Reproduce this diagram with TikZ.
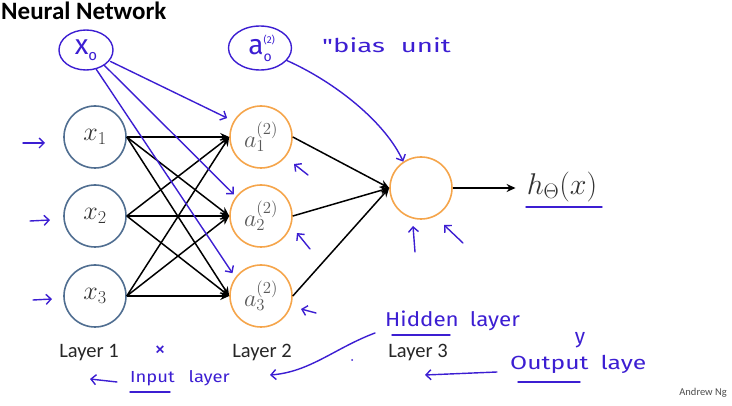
\RequirePackage{fix-cm}
\documentclass[tikz,border=0pt]{standalone}
\usepackage{fontspec}
\setsansfont{Carlito}
\newfontfamily\hand{Fira Sans}
\usetikzlibrary{arrows.meta,shapes.geometric}
\definecolor{inblue}{HTML}{506E91}
\definecolor{hidor}{HTML}{F5A54B}
\definecolor{pen}{HTML}{3C1ED2}
\tikzset{
  inneur/.style={circle,draw=inblue,line width=1.6pt,minimum size=62pt,inner sep=0pt,text=black!80,font=\fontsize{26}{26}\selectfont},
  hidneur/.style={circle,draw=hidor,line width=1.6pt,minimum size=62pt,inner sep=0pt,text=black!65,font=\fontsize{24}{24}\selectfont},
  wire/.style={line width=1.5pt,-{Stealth[length=9pt,width=8pt]}},
  penline/.style={draw=pen,line width=1.4pt,line cap=round,line join=round},
  penarrow/.style={penline,-{Straight Barb[length=5pt,width=10pt]}},
  pentext/.style={text=pen,inner sep=0pt},
  layerlbl/.style={font=\sffamily\fontsize{20.5}{20.5}\selectfont,inner sep=0pt,text=black!85},
  penellipse/.style={ellipse,draw=pen,line width=1.4pt,inner sep=0pt,text=pen},
}
\begin{document}
\begin{tikzpicture}[x=1pt,y=-1pt]
\useasboundingbox (0,0) rectangle (732,406);
% title
\node[font=\sffamily\bfseries\fontsize{25}{25}\selectfont,anchor=base west,inner sep=0pt] (title) at (1,20) {Neural Network};
% neurons
\node[inneur] (x1) at (95,137) {$x_1$};
\node[inneur] (x2) at (95,216) {$x_2$};
\node[inneur] (x3) at (95,296) {$x_3$};
\node[hidneur] (a1) at (261,137) {$a_1^{(2)}$};
\node[hidneur] (a2) at (261,216) {$a_2^{(2)}$};
\node[hidneur] (a3) at (261,296) {$a_3^{(2)}$};
\node[hidneur] (out) at (421,188) {};
\node[inner sep=0pt,font=\fontsize{30}{30}\selectfont,text=black!80] (h) at (562,187) {$h_\Theta(x)$};
% wires
\foreach \i in {1,2,3}{
  \foreach \j in {1,2,3}{
    \draw[wire] (x\i.east) -- (a\j.west);
  }
  \draw[wire] (a\i.east) -- (out.west);
}
\draw[wire,shorten >=11pt] (out.east) -- (out.east -| h.west);
% layer labels
\node[layerlbl] (l1) at (89,353) {Layer 1};
\node[layerlbl] (l2) at (262,353) {Layer 2};
\node[layerlbl] (l3) at (418,353) {Layer 3};
\node[font=\sffamily\fontsize{10.5}{10.5}\selectfont,text=black!70,anchor=east,inner sep=0pt] (sig) at (727,393) {Andrew Ng};
% handwritten annotations
\node[penellipse,minimum width=54pt,minimum height=40pt] (x0) at (86,50)
  {\hand\fontsize{28}{28}\selectfont\raisebox{1pt}{x}\raisebox{-5pt}{\fontsize{15}{15}\selectfont o}};
\node[penellipse,minimum width=63pt,minimum height=44pt] (a0) at (260,48)
  {\hand\fontsize{28}{28}\selectfont\raisebox{1pt}{a}\rlap{\raisebox{12pt}{\fontsize{10}{10}\selectfont (2)}}\raisebox{-6pt}{\fontsize{14}{14}\selectfont o}\hspace{6pt}};
\node[pentext,anchor=base west] (bias) at (322,53) {\hand\fontsize{19}{19}\selectfont\scalebox{1.45}[1]{"bias}\hspace{16pt}\scalebox{1.45}[1]{unit}};
\draw[penarrow,shorten <=1pt,shorten >=7pt] (x0.-25) -- (a1.150);
\draw[penarrow,shorten >=3pt] (x0.-40) -- (a2.142);
\draw[penarrow,shorten >=5pt] (x0.-62) -- (a3.144);
\draw[penarrow] (a0.-25) .. controls (335,82) and (385,122) .. (out.124);
% little arrows toward nodes
\draw[penarrow] (23,143) -- (45,143);
\draw[penarrow] (30,221) -- (50,220);
\draw[penarrow] (33,300) -- (52,299);
\draw[penarrow] (308,175) -- (294,164);
\draw[penarrow] (310,249) -- (297,233);
\draw[penarrow] (316,313) -- (301,309);
\draw[penarrow] (415,252) -- (413,226);
\draw[penarrow] (463,243) -- (444,225);
% h underline
\draw[penline] (526,207) -- (602,207);
% layer annotations
\node[pentext,anchor=base west] (hidden) at (385,327) {\hand\fontsize{20}{20}\selectfont\scalebox{1.12}[1]{Hidden}\hspace{11pt}\scalebox{1.12}[1]{layer}};
\draw[penline] (392,335) -- (450,335);
\coordinate (hidtail) at (375,333);
\coordinate (hidtip) at (270,375);
\draw[penarrow] (hidtail) .. controls (335,348) and (310,372) .. (hidtip);
\node[pentext,anchor=base west] (output) at (510,370) {\hand\fontsize{19}{19}\selectfont\scalebox{1.3}[1]{Output}\hspace{12pt}\scalebox{1.3}[1]{laye}};
\draw[penline] (518,382) -- (580,382);
\node[pentext] (ylab) at (580,340) {\hand\fontsize{21}{21}\selectfont y};
\coordinate (outtail) at (497,372);
\coordinate (outtip) at (425,375);
\draw[penarrow] (outtail) -- (outtip);
\node[pentext,anchor=base west] (input) at (130,383) {\hand\fontsize{16}{16}\selectfont\scalebox{1.15}[1]{Input}\hspace{14pt}\scalebox{1.15}[1]{layer}};
\draw[penline] (130,392) -- (170,392);
\coordinate (intail) at (117,382);
\coordinate (intip) at (90,379);
\draw[penarrow] (intail) -- (intip);
\node[pentext] (cross) at (160,351) {\hand\fontsize{22}{22}\selectfont ×};
\fill[pen] (352,360) circle (1pt);
\end{tikzpicture}
\end{document}
